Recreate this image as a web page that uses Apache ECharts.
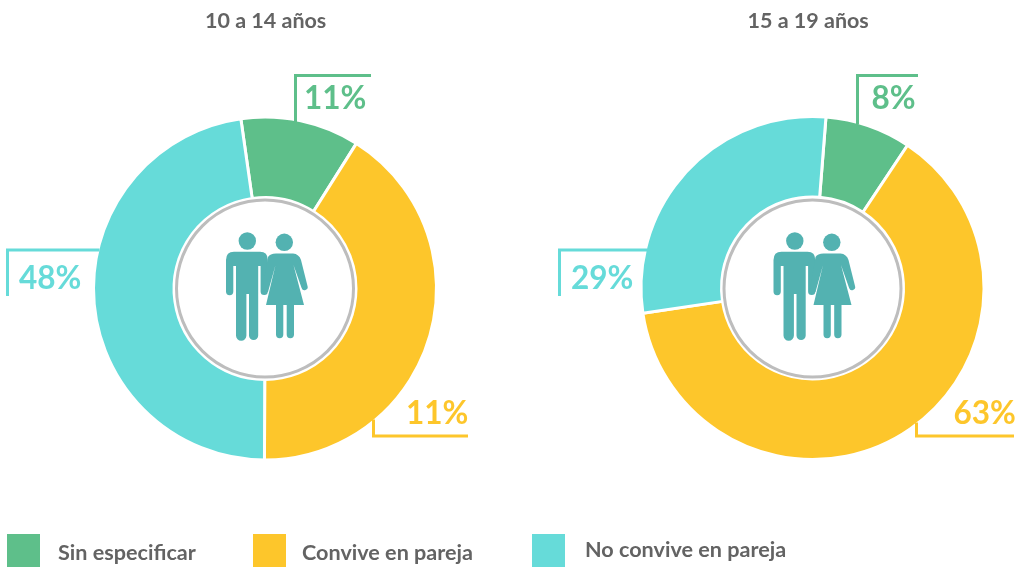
<!DOCTYPE html>
<html><head><meta charset="utf-8">
<style>html,body{margin:0;padding:0;background:#fff}#c{width:1016px;height:568px}</style>
<script src="https://cdn.jsdelivr.net/npm/echarts@6/dist/echarts.min.js"></script>
</head><body><div id="c"></div>
<script>
const categories = ['Sin especificar', 'Convive en pareja', 'No convive en pareja'];
const titles = ['10 a 14 años', '15 a 19 años'];
const values1014 = [11.2, 41.1, 47.7];
const values1519 = [8.1, 63.3, 28.6];
const labels1014 = ['11%', '11%', '48%'];
const labels1519 = ['8%', '63%', '29%'];

const colors = ['#5EBF8A', '#FDC62B', '#66DBD9'];
const TEAL = '#53B2B1', TEXT = '#636363', FONT = 'Lato';
const manPath = 'M234 251.7H260Q267.8 251.7 267.8 260V291.5A3.6 3.6 0 0 1 260.6 291.5V266H258.2V335.5A4.6 4.6 0 0 1 249 335.5V294H246.4V335.5A5 5 0 0 1 236 335.5V266H233.3V291.5A3.6 3.6 0 0 1 226 291.5V260Q226 251.7 234 251.7Z';
const womanPath = 'M276 253.5H293Q299 254 301 260L307.5 286A3 3 0 0 1 301.6 288L293.5 265L304 305H294V334.5A3.6 3.6 0 0 1 286.7 334.5V305H283.3V334.5A3.6 3.6 0 0 1 276 334.5V305H266L275.5 265L268 292H262L268 257Q270 253.5 276 253.5Z';
echarts.graphic.registerShape('manIcon', echarts.graphic.extendPath(manPath, {}));
echarts.graphic.registerShape('womanIcon', echarts.graphic.extendPath(womanPath, {}));

function people(dx) {
  return [
    {type:'circle', shape:{cx:265+dx, cy:288.5, r:88.5}, style:{fill:'#fff', stroke:'#BDBDBD', lineWidth:3}, z:10},
    {type:'circle', shape:{cx:247.3+dx, cy:241, r:8.7}, style:{fill:TEAL}, z:11},
    {type:'circle', shape:{cx:284.3+dx, cy:242.3, r:8.7}, style:{fill:TEAL}, z:11},
    {type:'manIcon', x:dx, style:{fill:TEAL}, z:11},
    {type:'womanIcon', x:dx, style:{fill:TEAL}, z:11}
  ];
}
function leader(points, color) {
  return {type:'polyline', shape:{points}, style:{stroke:color, lineWidth:3, fill:null}, z:6};
}
function valueLabel(text, x, y, color) {
  return {type:'text', x, y, z:12, style:{text, fill:color, font:'bold 31.5px Lato', textAlign:'left', textVerticalAlign:'middle'}};
}
function pie(center, startAngle, values) {
  return {
    type:'pie', center, radius:[91, 171.5], startAngle, clockwise:true, silent:true, z:5,
    animation:false,
    itemStyle:{borderColor:'#fff', borderWidth:3},
    label:{show:false},
    labelLine:{show:false},
    data: categories.map((name,i) => ({name, value:values[i], itemStyle:{color:colors[i]}}))
  };
}
function legend(name, left, top, pad) {
  const base = {fontFamily:FONT, fontSize:21.6, fontWeight:'bold', color:TEXT};
  return {show:true, data:[name], left, top, padding:0, orient:'horizontal', itemWidth:33, itemHeight:33, selectedMode:false,
    icon:'rect', itemStyle:{borderWidth:0},
    formatter:n => '{t|' + n + '}',
    textStyle:{...base, rich:{t:{...base, padding:pad}}}};
}
const chart = echarts.init(document.getElementById('c'), null, {renderer:'canvas'});
chart.setOption({
  backgroundColor:'#fff',
  animation:false,
  title:[
    {text:titles[0], left:200, top:5, textStyle:{fontFamily:FONT, fontSize:21.5, fontWeight:'bold', color:TEXT}},
    {text:titles[1], left:742.5, top:5, textStyle:{fontFamily:FONT, fontSize:21.5, fontWeight:'bold', color:TEXT}}
  ],
  legend:[
    legend(categories[0], 7, 534, [5,0,0,13]),
    legend(categories[1], 253, 534, [5,0,0,11]),
    legend(categories[2], 532, 534, [0,0,0,15])
  ],
  series:[
    pie([265,288.5], 98.1, values1014),
    pie([812.5,288], 85.5, values1519)
  ],
  graphic:[
    leader([[371,75.5],[295.5,75.5],[295.5,122]], colors[0]),
    leader([[373.5,419.5],[373.5,436],[468,436]], colors[1]),
    leader([[7.5,296],[7.5,250],[99.5,250]], colors[2]),
    leader([[918,75.5],[857.5,75.5],[857.5,124.5]], colors[0]),
    leader([[916.5,422.5],[916.5,436],[1014,436]], colors[1]),
    leader([[559.5,296],[559.5,250],[647,250]], colors[2]),
    valueLabel(labels1014[0], 304, 98.5, colors[0]),
    valueLabel(labels1014[1], 406, 414, colors[1]),
    valueLabel(labels1014[2], 19, 278.5, colors[2]),
    valueLabel(labels1519[0], 871.5, 98.5, colors[0]),
    valueLabel(labels1519[1], 953.5, 414, colors[1]),
    valueLabel(labels1519[2], 571, 278.5, colors[2]),
    ...people(0), ...people(547.5)
  ]
});
</script></body></html>
